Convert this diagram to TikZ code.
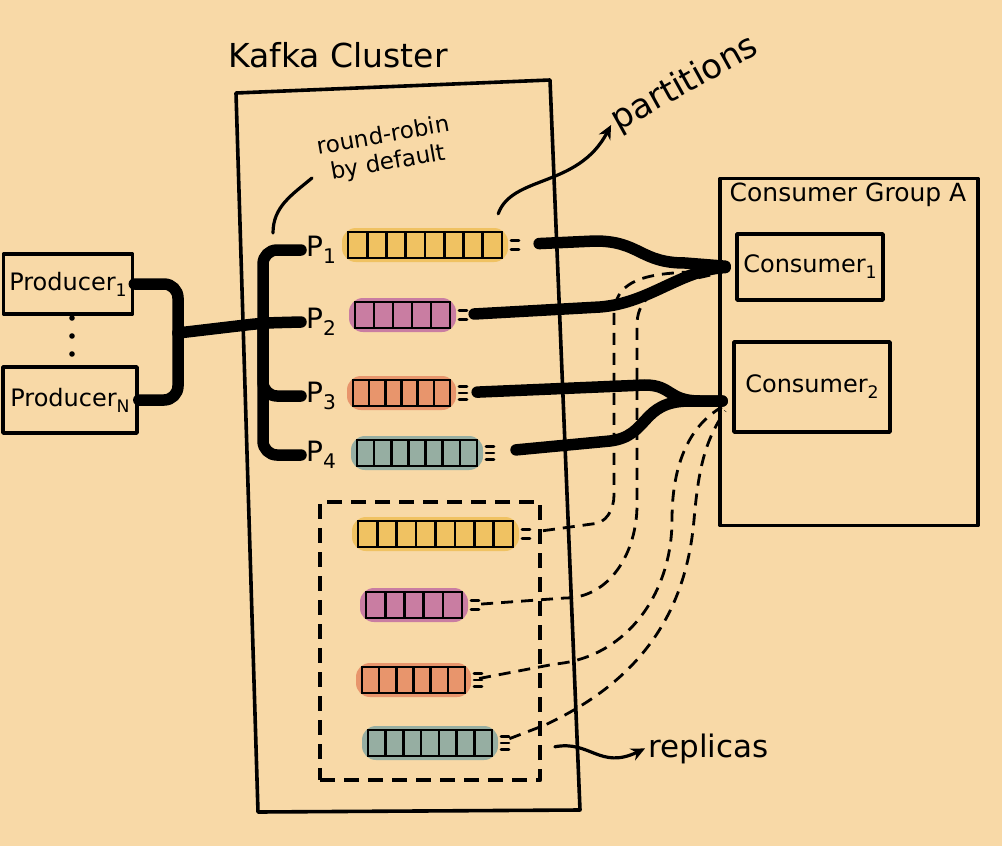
\documentclass[tikz,border=0pt]{standalone}
\usepackage{fontspec}
\setmainfont{DejaVu Sans}
\usepackage{xcolor}
\usepackage{graphicx}
\usepackage{tikz}
\usetikzlibrary{arrows.meta}
\definecolor{bg}{RGB}{248,217,167}
\definecolor{kyellow}{RGB}{240,194,98}
\definecolor{kpink}{RGB}{201,125,162}
\definecolor{korange}{RGB}{232,149,108}
\definecolor{kteal}{RGB}{150,174,162}
\newcommand{\lowidx}[1]{\raisebox{-0.45ex}{\scalebox{0.72}{#1}}}

\begin{document}
\begin{tikzpicture}[x=1pt,y=1pt]
	\tikzstyle{boxline} = [draw,line width=3.6pt,color=black,line join=round];
	\tikzstyle{kbox} = [boxline,rectangle,inner sep=0pt];
	\tikzstyle{wire} = [draw,line width=11.5pt,line cap=round,rounded corners=14pt];
	\tikzstyle{repl} = [draw,line width=2.8pt,dash pattern=on 12pt off 8pt];
	\tikzstyle{note} = [draw,line width=3.2pt,line cap=round];
	\tikzstyle{blob} = [fill,rounded corners=14pt,inner sep=0pt,minimum height=34pt];
	\tikzstyle{cellline} = [draw,line width=2.6pt];
	\tikzstyle{dashmark} = [draw,line width=2.6pt,line cap=round];
	\tikzstyle{hand} = [font=\fontsize{24}{28}\selectfont];
	\useasboundingbox (0,0) rectangle (1002,-846);
	\fill [bg] (0,0) rectangle (1002,-846);
	\draw [boxline] (236,-93) -- (550,-80) -- (580,-810) -- (258,-812) -- cycle;
	\node at (338,-55) [font=\fontsize{33}{38}\selectfont] (cluster) {Kafka Cluster};
	\node at (849,-352) [kbox,minimum width=258pt,minimum height=347pt] (group) {};
	\node at ([shift={(8pt,-3pt)}]group.north west) [anchor=north west,font=\fontsize{25}{30}\selectfont] (grouplabel) {Consumer Group A};
	\node at (68,-284) [kbox,hand,minimum width=129pt,minimum height=60pt] (prod1) {Producer\lowidx{1}};
	\node at (70,-400) [kbox,hand,minimum width=134pt,minimum height=66pt] (prodN) {Producer\lowidx{N}};
	\foreach \y in {318,336,354} \fill (72,-\y) circle (2.8pt);
	\node at (430,-641) [kbox,line width=4.2pt,dash pattern=on 15pt off 9pt,minimum width=220pt,minimum height=278pt] (repset) {};
	\foreach \n/\x/\y/\w/\k/\m/\c in {part1/348/245/154/7/2/kyellow,part2/355/315/95/4/2/kpink,part3/353/393/97/5/3/korange,part4/357/453/120/6/3/kteal,rep1/358/534/155/7/2/kyellow,rep2/366/605/96/4/2/kpink,rep3/362/680/103/5/3/korange,rep4/368/743/124/6/3/kteal} {
		\node at (\x+\w/2,-\y) [blob,fill=\c,minimum width=\w+12] (\n) {};
		\draw [cellline] (\x,-\y+13) rectangle ++(\w,-26);
		\foreach \i in {1,...,\k} \draw [cellline] ({\x+\i*\w/(\k+1)},-\y+13) -- ++(0,-26);
		\foreach \j in {1,...,\m} \draw [dashmark] ({\x+\w+9},{-\y+13-\j*26/(\m+1)}) -- ++(8,0);
	}
	\foreach \n/\y in {1/250,2/322,3/396,4/455} \node at (301,-\y) [anchor=west,inner sep=5pt,font=\fontsize{28}{32}\selectfont] (p\n) {P\lowidx{\n}};
	\node at (810,-267) [kbox,hand,minimum width=146pt,minimum height=66pt] (cons1) {Consumer\lowidx{1}};
	\node at (812,-387) [kbox,hand,minimum width=156pt,minimum height=90pt] (cons2) {Consumer\lowidx{2}};
	\coordinate (merge) at (178,-333);
	\coordinate (fork) at (263,-323);
	\draw [wire] (prod1.east) -| (merge);
	\draw [wire] (prodN.east) -| (merge);
	\draw [wire] (merge) -- (fork) -- (p2.west);
	\draw [wire] (fork) |- (p1.west);
	\draw [wire] (fork) |- (p3.west);
	\draw [wire] (fork) |- (p4.west);
	\draw [wire,sharp corners,shorten <=31pt,shorten >=10pt] (part1.east) -- (595,-241) .. controls (640,-241) and (640,-263) .. (685,-263) -- (cons1.west);
	\draw [wire,sharp corners,shorten <=18pt,shorten >=10pt] (part2.east) -- (600,-307) .. controls (650,-303) and (680,-270) .. (cons1.west);
	\draw [wire,sharp corners,shorten <=21pt,shorten >=10pt] (part3.east) -- (645,-385) .. controls (672,-385) and (668,-401) .. (700,-401) -- (cons2.190);
	\draw [wire,sharp corners,shorten <=33pt,shorten >=10pt] (part4.east) -- (610,-441) .. controls (650,-436) and (640,-401) .. (690,-401) -- (cons2.190);
	\draw [repl,shorten <=24pt,shorten >=12pt] (rep1.east) -- (592,-524) to[out=0,in=-90] (614,-495) -- (614,-315) to[out=90,in=190] (cons1.west);
	\draw [repl,shorten <=13pt,shorten >=12pt] (rep2.east) -- (565,-598) to[out=0,in=-90] (637,-505) -- (637,-325) to[out=90,in=200] (cons1.west);
	\draw [repl,shorten <=8pt,shorten >=12pt] (rep3.east) -- (555,-664) to[out=5,in=-90] (672,-520) to[out=90,in=210] (cons2.190);
	\draw [repl,shorten <=12pt,shorten >=12pt] (rep4.east) -- (545,-725) to[out=25,in=-95] (694,-520) to[out=85,in=235] (cons2.190);
	\node at (386,-150) [rotate=10,align=center,inner sep=2pt,font=\fontsize{23}{27}\selectfont] (rr) {round-robin\\by default};
	\coordinate (rrend) at (273,-233);
	\draw [note] ([shift={(-6pt,-16pt)}]rr.west) to[out=220,in=90] (rrend);
	\node at (685,-84) [rotate=29,font=\fontsize{34}{40}\selectfont] (parts) {partitions};
	\draw [note,-{Stealth[length=14pt,width=13pt]}] ([shift={(-10pt,14pt)}]part1.north east) .. controls (512,-175) and (578,-188) .. (parts.west);
	\node at (645,-757) [anchor=base west,font=\fontsize{31}{36}\selectfont] (replicas) {replicas};
	\draw [note,-{Stealth[length=14pt,width=13pt]},shorten <=13pt] (repset.-44) .. controls (590,-740) and (600,-770) .. (replicas.west);
\end{tikzpicture}
\end{document}
